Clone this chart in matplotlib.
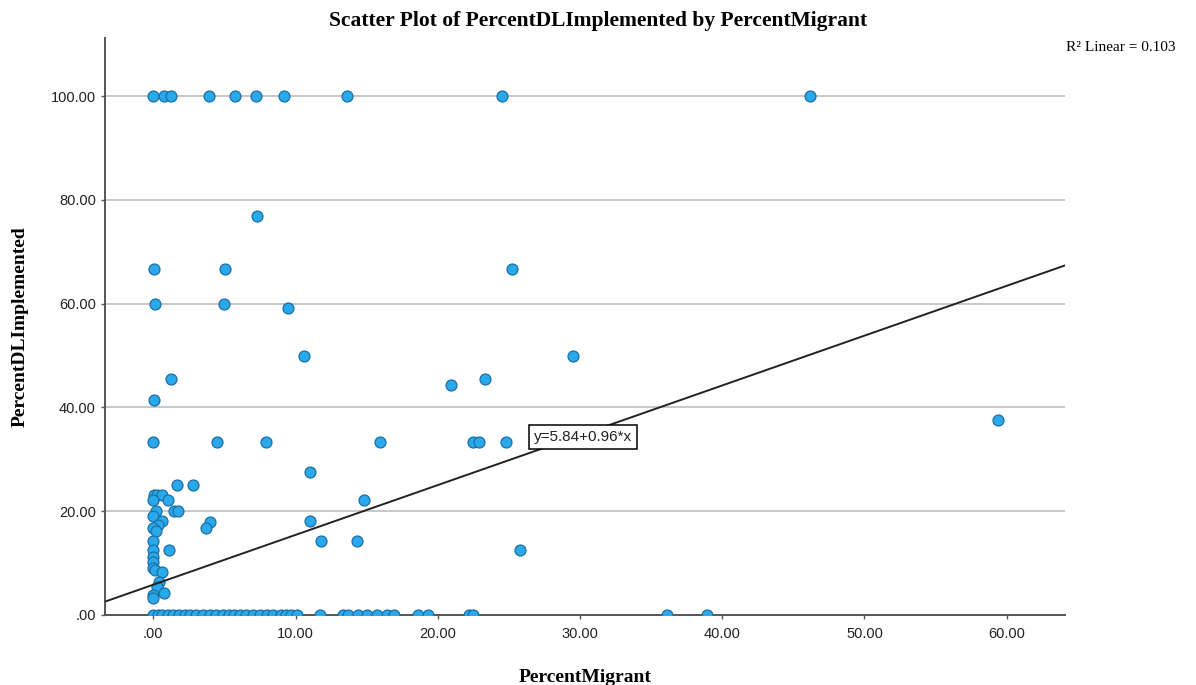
import matplotlib
matplotlib.use("Agg")
import matplotlib.pyplot as plt
from matplotlib.ticker import FuncFormatter

# districts at 100 % DL implemented
top_migrant = [0.0, 0.73, 1.27, 3.9, 5.77, 7.2, 9.16, 13.6, 24.5, 46.2]
top_dl = [100.0] * len(top_migrant)

# everything in between
mid_migrant = [7.31, 0.02, 5.06, 25.2, 0.14, 4.97, 9.45, 10.6, 29.5, 1.22,
               23.3, 20.9, 0.02, 0.0, 4.5, 7.9, 15.96, 22.5, 22.9, 24.8,
               59.4, 11.0, 1.69, 2.77, 14.8, 0.02, 0.26, 0.61, 0.0, 1.05,
               0.16, 1.43, 1.74, 0.0, 0.63, 11.0, 0.3, 4.0, 3.73, 0.0,
               0.16, 0.0, 11.8, 14.35, 0.0, 1.1, 25.8, 0.0, 0.0, 0.0,
               0.1, 0.63, 0.4, 0.26, 0.73, 0.0, 0.0]
mid_dl = [76.9, 66.7, 66.7, 66.7, 60.0, 60.0, 59.1, 50.0, 50.0, 45.5,
          45.5, 44.4, 41.4, 33.3, 33.3, 33.3, 33.3, 33.3, 33.3, 33.3,
          37.5, 27.6, 25.0, 25.0, 22.2, 23.1, 23.1, 23.1, 22.2, 22.2,
          20.0, 20.0, 20.0, 19.0, 18.2, 18.2, 17.4, 17.9, 16.7, 16.7,
          16.2, 14.3, 14.3, 14.3, 12.5, 12.5, 12.5, 11.1, 10.3, 9.1,
          8.7, 8.3, 6.3, 5.3, 4.3, 3.8, 3.2]

# districts with nothing implemented
zero_migrant = [0.0, 0.3, 0.6, 1.0, 1.4, 1.8, 2.2, 2.6, 3.0, 3.5, 4.0, 4.4,
                4.9, 5.3, 5.7, 6.1, 6.5, 7.0, 7.5, 8.0, 8.4, 9.0, 9.3, 9.7,
                10.1, 11.7, 13.3, 13.7, 14.4, 15.0, 15.75, 16.4, 16.9, 18.6,
                19.3, 22.2, 22.5, 36.1, 38.9]
zero_dl = [0.0] * len(zero_migrant)

# fit line
intercept = 5.84
slope = 0.96
r2 = 0.103

x_ticks = [0, 10, 20, 30, 40, 50, 60]
y_ticks = [0, 20, 40, 60, 80, 100]
xlim = (-3.4, 64.1)
ylim = (0, 111.2)

serif = ["Liberation Serif", "DejaVu Serif"]
narrow = ["Liberation Sans Narrow", "Liberation Sans", "DejaVu Sans"]

fig = plt.figure(figsize=(11.96, 6.85), dpi=100)
ax = fig.add_axes([0.0878, 0.1022, 0.8027, 0.8423])

xs = top_migrant + mid_migrant + zero_migrant
ys = top_dl + mid_dl + zero_dl
ax.scatter(xs, ys, s=62, c="#29a9ea", edgecolors="#1a6fa6", linewidths=0.9,
           zorder=3)

# regression line across the full x range
ax.plot(xlim, [intercept + slope * v for v in xlim], color="#222222", lw=1.4,
        zorder=4)
ax.text(30.2, 34.3, f"y={intercept:.2f}+{slope:.2f}*x", fontsize=11,
        family=narrow, color="#222222", ha="center", va="center", zorder=5,
        bbox=dict(boxstyle="square,pad=0.3", fc="white", ec="black", lw=1.1))

ax.set_xlim(*xlim)
ax.set_ylim(*ylim)
ax.set_xticks(x_ticks)
ax.set_yticks(y_ticks)
fmt = FuncFormatter(lambda v, p: ".00" if v == 0 else f"{v:.2f}")
ax.xaxis.set_major_formatter(fmt)
ax.yaxis.set_major_formatter(fmt)
ax.yaxis.grid(True, color="#c4c4c4", lw=1.3)
ax.set_axisbelow(True)

for side in ["top", "right"]:
    ax.spines[side].set_visible(False)
for side in ["left", "bottom"]:
    ax.spines[side].set_color("#555555")
    ax.spines[side].set_linewidth(1.4)

ax.tick_params(axis="both", length=3, width=1, color="#555555",
               labelsize=10.5, labelcolor="#222222")
ax.tick_params(axis="x", pad=6)
for lab in ax.get_xticklabels() + ax.get_yticklabels():
    lab.set_family(narrow)

ax.set_xlabel("PercentMigrant", family=serif, fontweight="bold", fontsize=14,
              labelpad=20)
ax.set_ylabel("PercentDLImplemented", family=serif, fontweight="bold",
              fontsize=14, labelpad=16)
fig.text(0.5, 0.97, "Scatter Plot of PercentDLImplemented by PercentMigrant",
         family=serif, fontweight="bold", fontsize=15.5, ha="center",
         va="center")
fig.text(0.891, 0.931, f"R\u00b2 Linear = {r2:.3f}", family=serif, fontsize=11,
         ha="left", va="center")

fig.savefig("out.png", dpi=100)
